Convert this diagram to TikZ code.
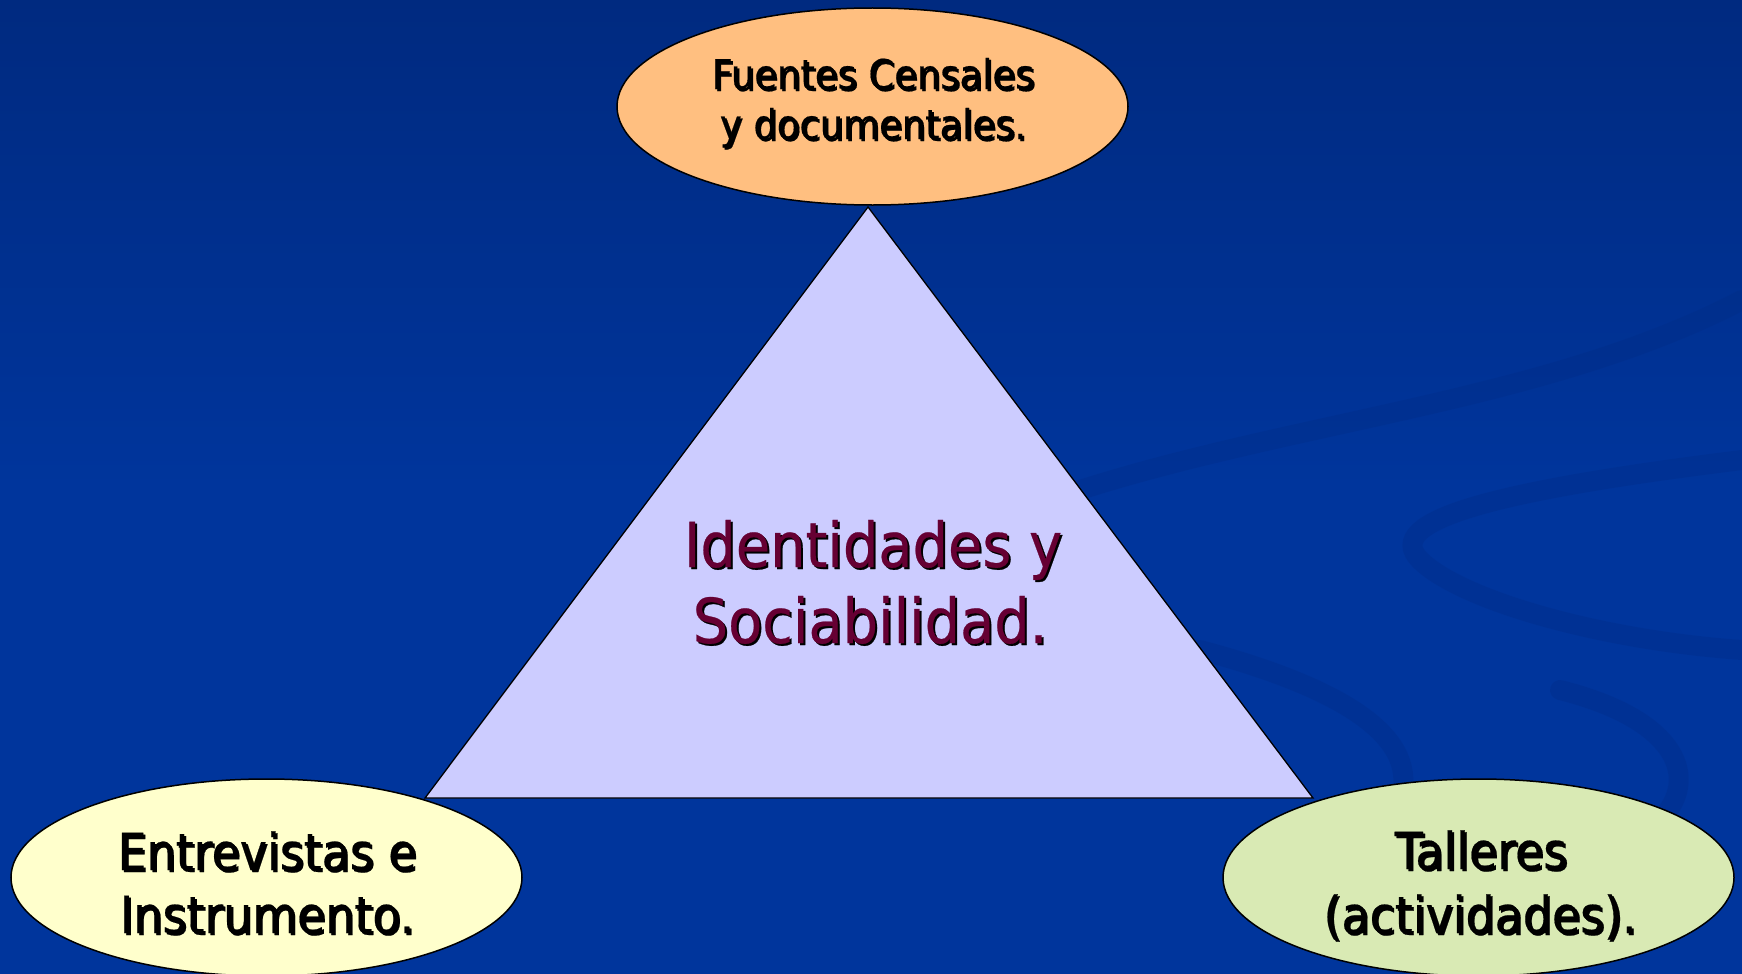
\documentclass[tikz,border=0pt]{standalone}
\usepackage{fontspec}
\setmainfont[FakeStretch=0.9,FakeBold=0.4]{DejaVu Sans}
\usetikzlibrary{shapes.geometric}
\definecolor{bgtop}{HTML}{002A80}
\definecolor{bgbot}{HTML}{00359C}
\definecolor{swirl}{HTML}{002A82}
\definecolor{peach}{HTML}{FFBF80}
\definecolor{cream}{HTML}{FFFFCC}
\definecolor{lgreen}{HTML}{D9EAB4}
\definecolor{lilac}{HTML}{CCCCFF}
\definecolor{maroon}{HTML}{660033}
\tikzset{
  blob/.style={ellipse, draw=black, line width=1.5pt, minimum width=511pt, minimum height=197pt, inner sep=0pt},
  small/.style={font=\fontsize{41}{41}\selectfont, inner sep=0pt, anchor=base},
  mid/.style={font=\fontsize{51}{51}\selectfont, inner sep=0pt, anchor=base},
  big/.style={font=\fontsize{62}{62}\selectfont, inner sep=0pt, anchor=base},
  swirlband/.style={draw=swirl, line width=20pt, opacity=0.28, line cap=round}
}
\newcommand\ShLine[6]{% name, x, y, style, colour, text
  \node[#4, text=black, anchor=base] at (#2+2,#3+2) {#6};
  \node[#4, text=#5, anchor=base] (#1) at (#2,#3) {#6};
}
\begin{document}
\begin{tikzpicture}[x=1pt,y=-1pt]
\useasboundingbox (0,0) rectangle (1742,974);
\shade[top color=bgtop, bottom color=bgbot, middle color=bgbot] (0,0) rectangle (1742,974);
% faint background swirls
\draw[swirlband] (1080,490) .. controls (1300,420) and (1550,400) .. (1742,300);
\draw[swirlband] (1742,460) .. controls (1500,490) and (1380,520) .. (1420,560) .. controls (1460,600) and (1600,640) .. (1742,650);
\draw[swirlband] (1200,650) .. controls (1350,690) and (1420,740) .. (1400,800);
\draw[swirlband] (1560,690) .. controls (1680,720) and (1700,780) .. (1660,820);
% shapes
\node[blob, fill=peach] (top) at (872.5,106.5) {};
\coordinate (apex) at (868,207);
\coordinate (bl) at (425,798);
\coordinate (br) at (1313,798);
\filldraw[fill=lilac, draw=black, line width=1.3pt, line join=miter] (apex) -- (br) -- (bl) -- cycle;
\node[blob, fill=cream] (left) at (266.5,877.5) {};
\node[blob, fill=lgreen] (right) at (1478.5,877.5) {};
% texts
\ShLine{t1}{873}{89}{small}{black}{Fuentes Censales}
\ShLine{t2}{873}{139}{small}{black}{y documentales.}
\ShLine{l1}{267}{870}{mid}{black}{Entrevistas e}
\ShLine{l2}{267}{933}{mid}{black}{Instrumento.}
\ShLine{r1}{1481}{869}{mid}{black}{Talleres}
\ShLine{r2}{1480}{933}{mid}{black}{(actividades).}
\ShLine{c1}{873}{567}{big}{maroon}{Identidades y}
\ShLine{c2}{870}{643}{big}{maroon}{Sociabilidad.}
\end{tikzpicture}
\end{document}
